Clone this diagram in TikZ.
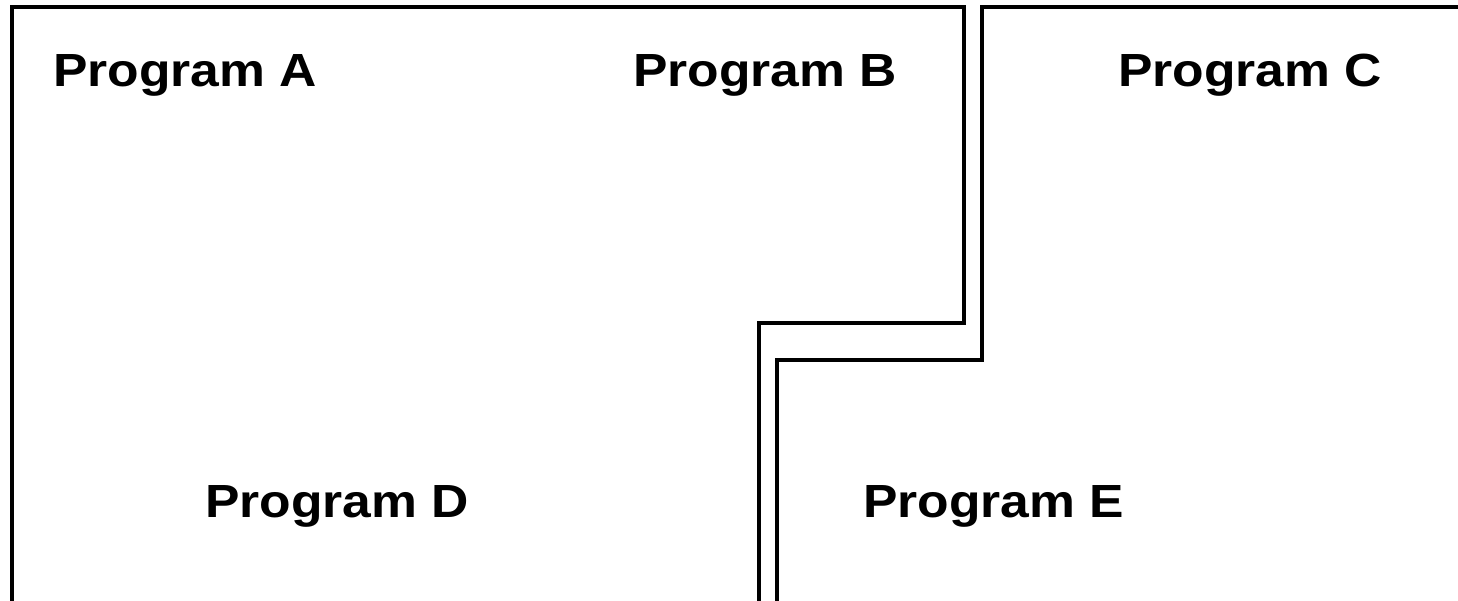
\documentclass[tikz,border=0pt]{standalone}
\usepackage{fontspec}
\setmainfont{Liberation Sans}
\begin{document}
\begin{tikzpicture}[x=1pt,y=1pt,
  region/.style={line width=4pt,miter limit=10,line join=miter},
  label/.style={anchor=base west,inner sep=0pt,font=\fontsize{46.5}{50}\selectfont\bfseries}]
\useasboundingbox (0,0) rectangle (1458,600);
\clip (0,0) rectangle (1458,600);
% left region (A, B, D)
\draw[region] (12,-5) -- (12,593) -- (963.5,593) -- (963.5,276.5)
  -- (758.5,276.5) -- (758.5,-5);
% right region (C, E)
\draw[region] (1465,593) -- (981.5,593) -- (981.5,239.5)
  -- (776.5,239.5) -- (776.5,-5);
\node[label] (a) at (53,513) {\scalebox{1.11}[1]{Program A}};
\node[label] (b) at (633,513) {\scalebox{1.11}[1]{Program B}};
\node[label] (c) at (1118,513) {\scalebox{1.11}[1]{Program C}};
\node[label] (d) at (205,83) {\scalebox{1.11}[1]{Program D}};
\node[label] (e) at (863,83) {\scalebox{1.11}[1]{Program E}};
\end{tikzpicture}
\end{document}
